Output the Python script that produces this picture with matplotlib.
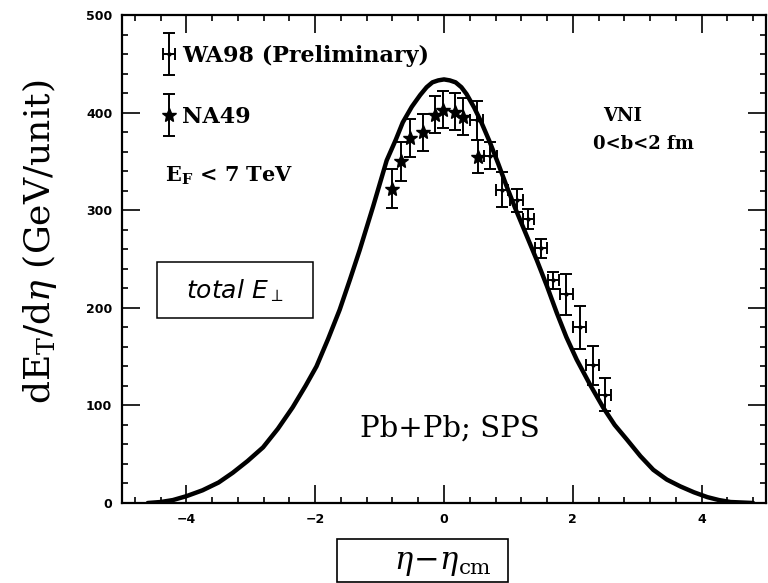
import numpy as np
import matplotlib
matplotlib.use('Agg')
import matplotlib.pyplot as plt
from matplotlib.patches import Rectangle
from matplotlib.legend_handler import HandlerErrorbar
from matplotlib.container import ErrorbarContainer
from matplotlib.ticker import MultipleLocator

plt.rcParams['font.family'] = ['DejaVu Serif']
plt.rcParams['mathtext.fontset'] = 'dejavuserif'

# VNI model curve, total E_T per unit pseudorapidity
vni_eta = [-4.6, -4.4, -4.21, -4.0, -3.75, -3.5, -3.28, -3.05, -2.81, -2.58,
           -2.35, -2.15, -1.98, -1.8, -1.62, -1.46, -1.31, -1.10, -0.89, -0.75,
           -0.64, -0.5, -0.37, -0.27, -0.18, -0.09, 0.0, 0.09, 0.18, 0.27,
           0.35, 0.47, 0.58, 0.71, 0.84, 0.97, 1.10, 1.27, 1.44, 1.6,
           1.75, 1.9, 2.06, 2.27, 2.47, 2.65, 2.84, 3.05, 3.25, 3.46,
           3.67, 3.88, 4.09, 4.27, 4.45, 4.8]
vni_et = [0, 1, 3, 7, 13, 21, 31, 43, 57, 76,
          98, 120, 140, 168, 198, 229, 259, 304, 351, 372,
          390, 406, 418, 426, 431, 433, 434, 433, 431, 426,
          419, 405, 390, 370, 348, 325, 303, 276, 249, 222,
          195, 170, 147, 121, 98, 80, 65, 48, 34, 24,
          17, 11, 6, 3, 1, 0]

# WA98 (preliminary)
wa98_eta = [0.51, 0.72, 0.90, 1.13, 1.31, 1.51, 1.70, 1.90, 2.11, 2.31, 2.50]
wa98_et = [392, 356, 321, 310, 291, 261, 228, 214, 180, 141, 111]
wa98_yerr = [20, 14, 18, 12, 10, 10, 9, 21, 22, 20, 17]
wa98_xerr = [0.1, 0.1, 0.1, 0.1, 0.09, 0.09, 0.09, 0.1, 0.1, 0.1, 0.1]

# NA49
na49_eta = [-0.81, -0.66, -0.53, -0.32, -0.14, -0.01, 0.17, 0.30, 0.53]
na49_et = [322, 350, 374, 380, 398, 403, 401, 396, 355]
na49_yerr = [20, 20, 19, 19, 19, 19, 19, 19, 17]

fig = plt.figure(figsize=(7.68, 5.83), dpi=100)
ax = fig.add_axes([122 / 768, 80 / 583, 644 / 768, 488 / 583])

ax.plot(vni_eta, vni_et, color='black', lw=3.2, solid_capstyle='round',
        solid_joinstyle='round', zorder=3)

wa = ax.errorbar(wa98_eta, wa98_et, yerr=wa98_yerr, xerr=wa98_xerr, fmt='o', ms=2,
                 color='black', ecolor='black', elinewidth=1.4, capsize=4.5, capthick=1.4,
                 zorder=4)
na = ax.errorbar(na49_eta, na49_et, yerr=na49_yerr, fmt='*', ms=10, color='black',
                 ecolor='black', elinewidth=1.4, capsize=4.5, capthick=1.4, zorder=4)

ax.set_xlim(-5, 5)
ax.set_ylim(0, 500)
ax.xaxis.set_major_locator(MultipleLocator(2))
ax.xaxis.set_minor_locator(MultipleLocator(0.4))
ax.yaxis.set_major_locator(MultipleLocator(100))
ax.yaxis.set_minor_locator(MultipleLocator(20))
ax.tick_params(which='both', direction='in', top=True, right=True, width=1.2)
ax.tick_params(which='major', length=13, pad=7)
ax.tick_params(which='minor', length=4.5)
for s in ax.spines.values():
    s.set_linewidth(1.6)
for lab in ax.get_xticklabels() + ax.get_yticklabels():
    lab.set_family('DejaVu Sans')
    lab.set_fontweight('bold')
    lab.set_fontsize(9)

ax.set_ylabel(r'dE$_\mathrm{T}$/d$\eta$ (GeV/unit)', fontsize=26)
ax.yaxis.set_label_coords(-0.098, 0.536)

# x label inside a hand-drawn style box
fig.text(443 / 768, 1 - 562 / 583, r'$\eta\!-\!\eta_\mathrm{cm}$', fontsize=22,
         ha='center', va='center')
fig.patches.append(Rectangle((337 / 768, 1 - 582 / 583), 171 / 768, 43 / 583,
                             transform=fig.transFigure, fill=False, lw=1.2,
                             edgecolor='black'))

leg = ax.legend([wa, na], ['WA98 (Preliminary)', 'NA49'], loc='upper left',
                bbox_to_anchor=(0.035, 0.98), frameon=False,
                prop={'family': 'DejaVu Serif', 'weight': 'bold', 'size': 16},
                handlelength=0.4, handletextpad=0.4, labelspacing=1.75,
                handler_map={ErrorbarContainer: HandlerErrorbar(xerr_size=0.25, yerr_size=0.95)})

ax.text(-4.33, 335, r'E$_\mathbf{F}$ < 7 TeV', fontsize=15, fontweight='bold',
        ha='left', va='center')
ax.text(2.78, 397, 'VNI', fontsize=13, fontweight='bold', ha='center', va='center')
ax.text(3.1, 368, '0<b<2 fm', fontsize=13, fontweight='bold', ha='center', va='center')
ax.text(0.09, 76, 'Pb+Pb; SPS', fontsize=21, ha='center', va='center')

ax.text(-3.25, 218, r'total E$_\perp$', fontsize=18, style='italic',
        family='DejaVu Sans', ha='center', va='center')
ax.add_patch(Rectangle((-4.46, 189.5), 2.42, 57.5, fill=False, lw=1.1, edgecolor='black'))

fig.savefig('out.png', dpi=100)
